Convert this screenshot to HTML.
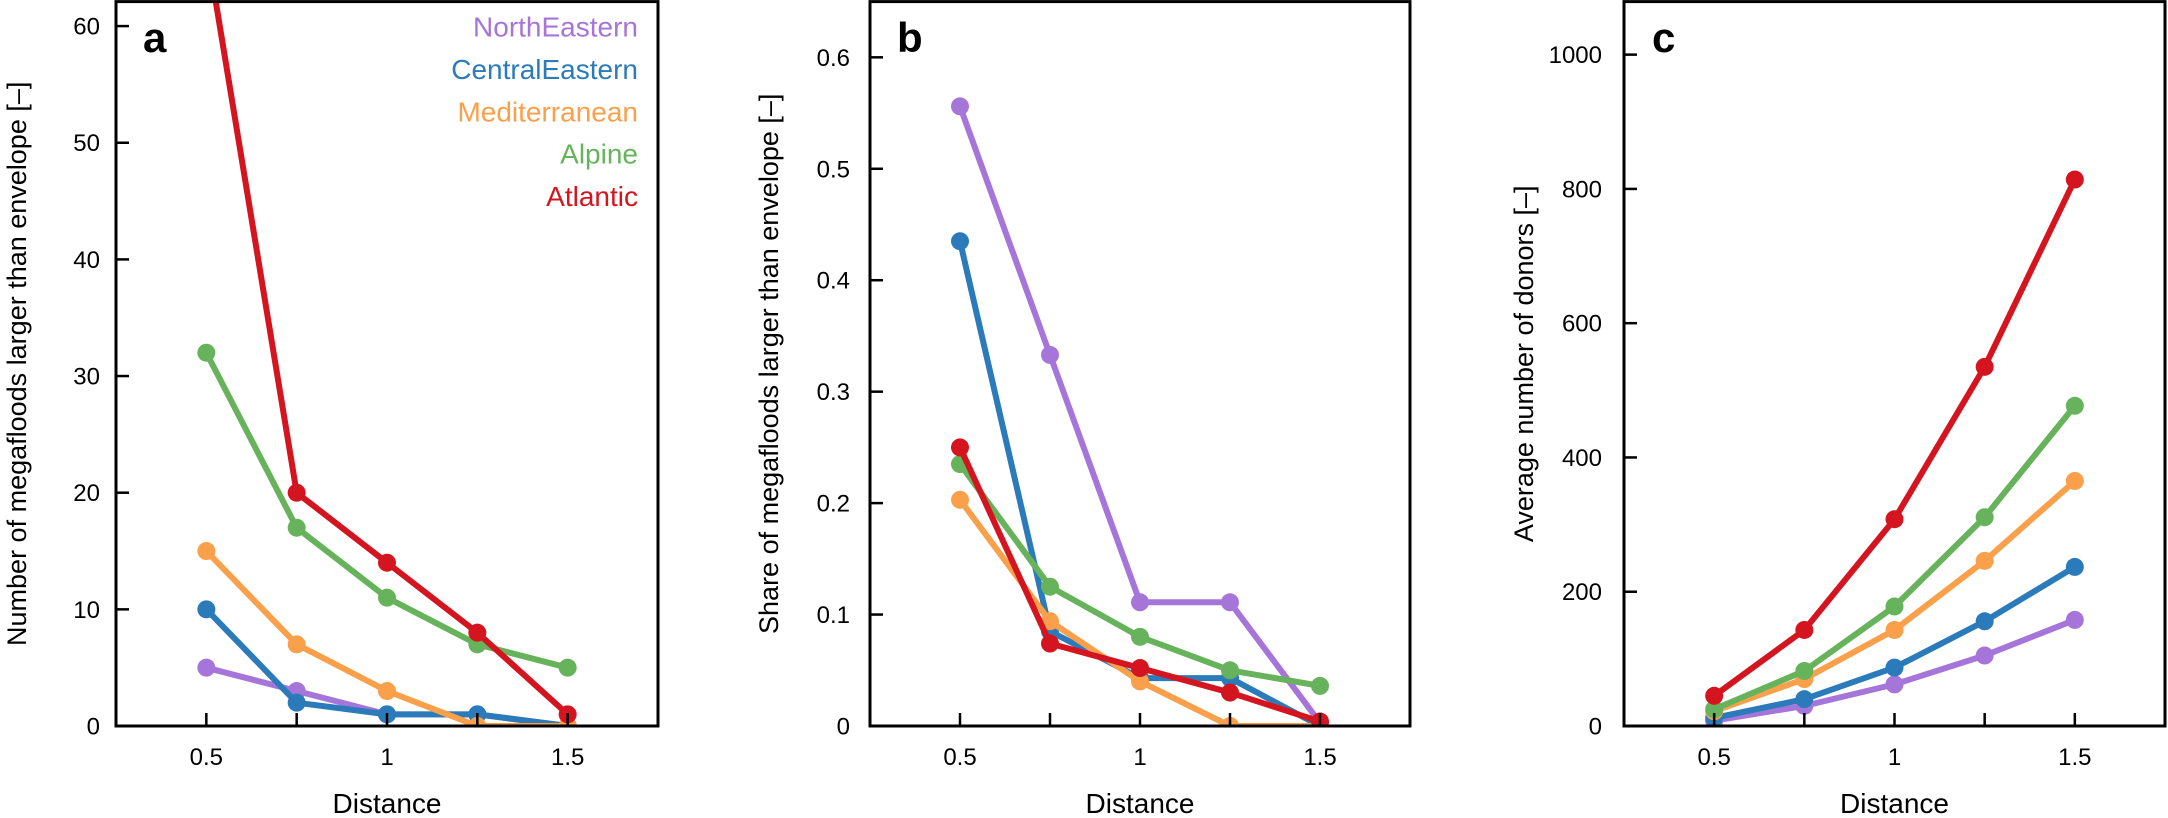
<!DOCTYPE html>
<html><head><meta charset="utf-8"><style>
html,body{margin:0;padding:0;background:#fff;}
svg{display:block;font-family:"Liberation Sans",Arial,sans-serif;}
</style></head><body>
<svg id="s" width="2168" height="818" xmlns="http://www.w3.org/2000/svg"></svg>
<script>
const C={ne:"#a675d9",ce:"#2b7bba",med:"#fba04a",alp:"#67b35c",atl:"#d4151f"};
const order=["ne","ce","med","alp","atl"];
const panels=[
 {L:116,R:658,ymax:62.1,ticks:[0,10,20,30,40,50,60],fmt:v=>String(v),lab:"a",labx:143,ylab:"Number of megafloods larger than envelope [–]",ylx:16,tlx:100,
  d:{ne:[5,3,1,1,0],ce:[10,2,1,1,0],med:[15,7,3,0,0],alp:[32,17,11,7,5],atl:[67,20,14,8,1]}},
 {L:870,R:1410,ymax:0.65,ticks:[0,0.1,0.2,0.3,0.4,0.5,0.6],fmt:v=>v===0?"0":v.toFixed(1),lab:"b",labx:897,ylab:"Share of megafloods larger than envelope [–]",ylx:768,tlx:850,
  d:{ne:[0.556,0.333,0.111,0.111,0.003],ce:[0.435,0.085,0.043,0.043,0],med:[0.203,0.094,0.04,0,0],alp:[0.235,0.125,0.08,0.05,0.036],atl:[0.25,0.074,0.052,0.03,0.004]}},
 {L:1624,R:2165,ymax:1079,ticks:[0,200,400,600,800,1000],fmt:v=>String(v),lab:"c",labx:1652,ylab:"Average number of donors [–]",ylx:1523,tlx:1602,
  d:{ne:[8,30,62,105,158],ce:[12,40,87,156,237],med:[22,70,143,246,365],alp:[25,82,178,311,477],atl:[45,143,308,535,814]}}
];
const T=1.6,B=726;
let h="";
panels.forEach((p,i)=>{
 const X=x=>p.L+(x-0.25)/1.5*(p.R-p.L);
 const Y=v=>B-v/p.ymax*(B-T);
 h+=`<clipPath id="c${i}"><rect x="${p.L}" y="${T}" width="${p.R-p.L}" height="${B-T}"/></clipPath>`;
 const xs=[0.5,0.75,1,1.25,1.5];
 h+=`<g clip-path="url(#c${i})">`;
 order.forEach(k=>{
  const pts=p.d[k].map((v,j)=>[X(xs[j]),Y(v)]);
  h+=`<polyline points="${pts.map(q=>q.join(",")).join(" ")}" fill="none" stroke="${C[k]}" stroke-width="6" stroke-linejoin="round"/>`;
  pts.forEach(q=>{h+=`<circle cx="${q[0]}" cy="${q[1]}" r="9" fill="${C[k]}"/>`;});
 });
 h+=`</g>`;
 // frame
 h+=`<rect x="${p.L}" y="${T}" width="${p.R-p.L}" height="${B-T}" fill="none" stroke="#000" stroke-width="3"/>`;
 xs.forEach(x=>{h+=`<line x1="${X(x)}" y1="${B}" x2="${X(x)}" y2="${B-13}" stroke="#000" stroke-width="2.5"/>`;});
 [0.5,1,1.5].forEach(x=>{h+=`<text x="${X(x)}" y="765" font-size="24" text-anchor="middle">${x}</text>`;});
 p.ticks.forEach(v=>{const y=Y(v);h+=`<line x1="${p.L}" y1="${y}" x2="${p.L+13}" y2="${y}" stroke="#000" stroke-width="2.5"/><text x="${p.tlx}" y="${y+8.5}" font-size="24" text-anchor="end">${p.fmt(v)}</text>`;});
 h+=`<text x="${X(1)}" y="813" font-size="28" text-anchor="middle">Distance</text>`;
 h+=`<text transform="translate(${p.ylx+10},${(T+B)/2}) rotate(-90)" font-size="27" text-anchor="middle">${p.ylab}</text>`;
 h+=`<text x="${p.labx}" y="52" font-size="42" font-weight="bold">${p.lab}</text>`;
});
const leg=[["NorthEastern","ne"],["CentralEastern","ce"],["Mediterranean","med"],["Alpine","alp"],["Atlantic","atl"]];
leg.forEach((l,i)=>{h+=`<text x="638" y="${36.5+i*42.4}" font-size="28" text-anchor="end" fill="${C[l[1]]}">${l[0]}</text>`;});
document.getElementById("s").innerHTML=h;
</script>
</body></html>
